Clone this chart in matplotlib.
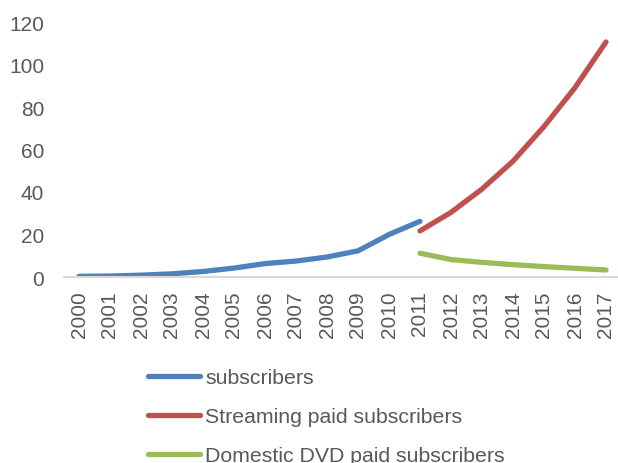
import matplotlib
matplotlib.use("Agg")
import matplotlib.pyplot as plt

plt.rcParams['font.family'] = ['Liberation Sans', 'DejaVu Sans']

years = [str(y) for y in range(2000, 2018)]

# total subscribers up to 2011, then the split series
subscribers = [0.3, 0.46, 0.86, 1.49, 2.6, 4.2, 6.3, 7.5, 9.4, 12.3, 20.0, 26.2]
streaming_paid = [21.7, 30.4, 41.4, 54.5, 70.8, 89.1, 110.6]
dvd_paid = [11.2, 8.2, 6.9, 5.8, 4.9, 4.1, 3.3]

blue = '#4F81BD'
red = '#C0504D'
green = '#9BBB59'
grey_text = '#595959'

fig = plt.figure(figsize=(6.18, 4.64), dpi=100)
ax = fig.add_axes([63.5 / 618, 1 - 278 / 464, 558 / 618, 255 / 464])

x_all = list(range(len(years)))
lw = 3.8
ax.plot(x_all[:12], subscribers, color=blue, lw=lw, solid_capstyle='round',
        label='subscribers')
ax.plot(x_all[11:], streaming_paid, color=red, lw=lw, solid_capstyle='round',
        label='Streaming paid subscribers')
ax.plot(x_all[11:], dvd_paid, color=green, lw=lw, solid_capstyle='round',
        label='Domestic DVD paid subscribers')

ax.set_xlim(-0.5, len(years) - 0.5)
ax.set_ylim(0, 120)
ax.set_yticks(range(0, 121, 20))
ax.set_xticks(x_all)
ax.set_xticklabels(years, rotation=90)

for side in ['top', 'right', 'left']:
    ax.spines[side].set_visible(False)
ax.spines['bottom'].set_color('#D9D9D9')
ax.spines['bottom'].set_linewidth(1.5)

ax.tick_params(axis='both', length=0, labelsize=15, colors=grey_text)
ax.tick_params(axis='y', pad=14)
ax.tick_params(axis='x', pad=9.5)

leg = fig.legend(loc='upper left', bbox_to_anchor=(148 / 618, 1 - 369 / 464),
                 frameon=False, fontsize=15.3, handlelength=2.45,
                 handletextpad=0.25, labelspacing=0.95, borderpad=0,
                 borderaxespad=0)
for t in leg.get_texts():
    t.set_color(grey_text)
for h in leg.get_lines():
    h.set_solid_capstyle('round')

fig.savefig('out.png', dpi=100)
